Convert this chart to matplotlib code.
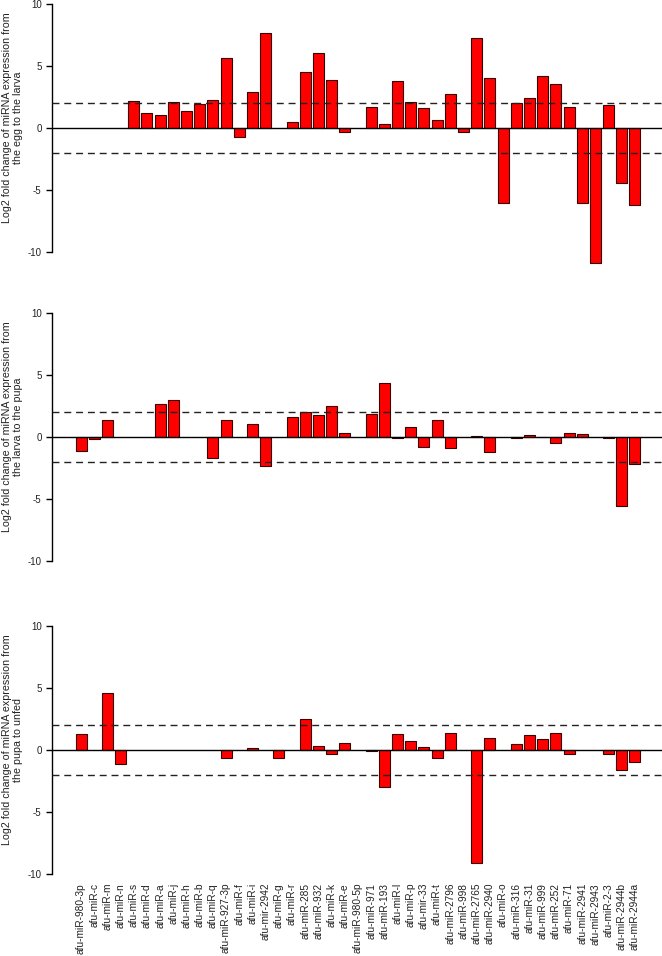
import numpy as np
import matplotlib
matplotlib.use('Agg')
import matplotlib.pyplot as plt
import matplotlib.transforms as mtransforms

plt.rcParams['font.family'] = ['Liberation Sans', 'DejaVu Sans']

mirnas = ['afu-miR-980-3p', 'afu-miR-c', 'afu-miR-m', 'afu-miR-n', 'afu-miR-s',
          'afu-miR-d', 'afu-miR-a', 'afu-miR-j', 'afu-miR-h', 'afu-miR-b',
          'afu-miR-q', 'afu-miR-927-3p', 'afu-miR-f', 'afu-miR-i', 'afu-mir-2942',
          'afu-miR-g', 'afu-miR-r', 'afu-miR-285', 'afu-miR-932', 'afu-miR-k',
          'afu-miR-e', 'afu-miR-980-5p', 'afu-miR-971', 'afu-miR-193', 'afu-miR-l',
          'afu-miR-p', 'afu-mir-33', 'afu-miR-t', 'afu-miR-2796', 'afu-miR-998',
          'afu-miR-2765', 'afu-miR-2940', 'afu-miR-o', 'afu-miR-316', 'afu-miR-31',
          'afu-miR-999', 'afu-miR-252', 'afu-miR-71', 'afu-miR-2941', 'afu-miR-2943',
          'afu-miR-2-3', 'afu-miR-2944b', 'afu-miR-2944a']

nan = np.nan
egg_to_larva = [nan, nan, nan, nan, 2.2, 1.25, 1.05, 2.07, 1.34, 1.96,
                2.28, 5.62, -0.73, 2.9, 7.69, nan, 0.48, 4.54, 6.05, 3.87,
                -0.3, nan, 1.72, 0.32, 3.82, 2.07, 1.61, 0.62, 2.71, -0.3,
                7.26, 4.0, -6.05, 1.99, 2.45, 4.17, 3.58, 1.69, -6.08, -10.9,
                1.83, -4.41, -6.24]
larva_to_pupa = [-1.13, -0.2, 1.34, nan, nan, nan, 2.63, 2.98, nan, nan,
                 -1.72, 1.34, nan, 1.08, -2.37, nan, 1.59, 2.04, 1.75, 2.53,
                 0.3, nan, 1.88, 4.33, -0.05, 0.81, -0.78, 1.34, -0.91, nan,
                 0.05, -1.21, nan, -0.08, 0.19, -0.03, -0.48, 0.35, 0.27, nan,
                 -0.08, -5.56, -2.15]
pupa_to_unfed = [1.29, nan, 4.56, -1.13, nan, nan, nan, nan, nan, nan,
                 nan, -0.64, nan, 0.13, nan, -0.64, nan, 2.47, 0.3, -0.35,
                 0.54, nan, -0.05, -2.95, 1.29, 0.7, 0.27, -0.64, 1.39, nan,
                 -9.09, 0.97, nan, 0.51, 1.18, 0.88, 1.37, -0.29, nan, nan,
                 -0.35, -1.61, -0.97]

ylabels = ['Log2 fold change of miRNA expression from\nthe egg to the larva',
           'Log2 fold change of miRNA expression from\nthe larva to the pupa',
           'Log2 fold change of miRNA expression from\nthe pupa to unfed']

W, H = 662, 956
fig = plt.figure(figsize=(W / 100, H / 100), dpi=100)

xs = np.arange(len(mirnas))
ylo, yhi = -11.5, 10.3
scale = 12.4            # pixels per unit
zeros_px = [128, 437, 750]
left_px = 52

panels = [egg_to_larva, larva_to_pupa, pupa_to_unfed]
for k, (vals, zp, lab) in enumerate(zip(panels, zeros_px, ylabels)):
    top_px = zp - yhi * scale
    bot_px = zp - ylo * scale
    ax = fig.add_axes([left_px / W, 1 - bot_px / H,
                       (W - left_px) / W, (bot_px - top_px) / H])
    ax.bar(xs, vals, width=0.833, color='#ff0000', edgecolor='#3a0000',
           linewidth=0.8, zorder=2)
    ax.axhline(0, color='black', lw=1.0, zorder=3)
    for y in (2, -2):
        ax.axhline(y, color='#222222', lw=1.0, dashes=(5, 3.5), zorder=3)
    ax.set_xlim(-2.2, 44.05)
    ax.set_ylim(ylo, yhi)
    for s in ('top', 'right', 'bottom'):
        ax.spines[s].set_visible(False)
    ax.spines['left'].set_bounds(-10, 10)
    ax.spines['left'].set_linewidth(1.0)
    ax.set_yticks([-10, -5, 0, 5, 10])
    ax.set_yticklabels(['-10', '-5', '0', '5', '10'])
    ax.tick_params(axis='y', length=4.5, width=1.0, pad=3, labelsize=7,
                   labelcolor='#222222')
    if k == 2:
        ax.set_xticks(xs)
        ax.set_xticklabels(mirnas, rotation=90, fontsize=7.3, va='top',
                           color='#222222')
        ax.tick_params(axis='x', length=0, pad=-7)
    else:
        ax.set_xticks([])
    trans = mtransforms.blended_transform_factory(fig.transFigure, ax.transData)
    ax.text(12.5 / W, 0.8, lab, transform=trans, rotation=90, ha='center',
            va='center', fontsize=7.7, multialignment='center', linespacing=1.1,
            color='#222222')

plt.savefig('out.png', dpi=100)
